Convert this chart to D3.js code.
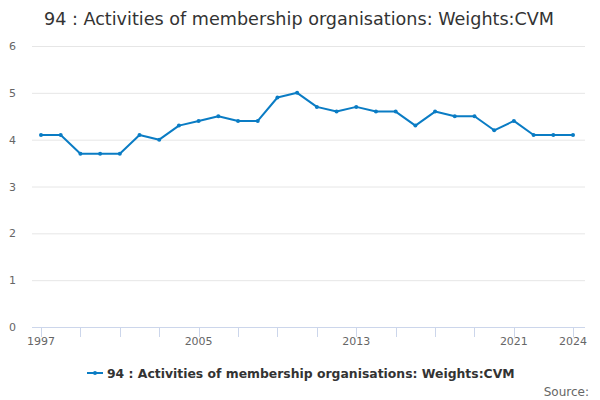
<!DOCTYPE html>
<html><head><meta charset="utf-8">
<script src="https://cdn.jsdelivr.net/npm/d3@7"></script>
<style>body{margin:0;background:#fff}svg{display:block;font-family:"DejaVu Sans",sans-serif}</style>
</head><body><svg id="c" width="600" height="400"></svg>
<script>
const years = [1997,1998,1999,2000,2001,2002,2003,2004,2005,2006,2007,2008,2009,2010,2011,2012,2013,2014,2015,2016,2017,2018,2019,2020,2021,2022,2023,2024];
const values = [4.1,4.1,3.7,3.7,3.7,4.1,4.0,4.3,4.4,4.5,4.4,4.4,4.9,5.0,4.7,4.6,4.7,4.6,4.6,4.3,4.6,4.5,4.5,4.2,4.4,4.1,4.1,4.1];
const yTicks = [0,1,2,3,4,5,6];
const xTickYears = [1997,1999,2001,2003,2005,2007,2009,2011,2013,2015,2017,2019,2021,2024];
const xLabelYears = [1997,2005,2013,2021,2024];
const title = "94 : Activities of membership organisations: Weights:CVM";
const seriesName = "94 : Activities of membership organisations: Weights:CVM";
const color = "#0a7cc4";

const svg = d3.select("#c");
const x = d3.scaleLinear().domain([1997,2024]).range([41,573]);
const y = d3.scaleLinear().domain([0,6]).range([327,46]);

svg.append("text").attr("x",299).attr("y",25).attr("text-anchor","middle")
  .attr("font-size",17.6).attr("fill","#333").text(title);

svg.append("g").selectAll("line").data(yTicks.filter(d=>d>0)).join("line")
  .attr("x1",32).attr("x2",585).attr("y1",d=>y(d)+0.5).attr("y2",d=>y(d)+0.5)
  .attr("stroke","#e6e6e6").attr("stroke-width",1);
svg.append("g").selectAll("text").data(yTicks).join("text")
  .attr("x",16).attr("y",d=>y(d)+4).attr("text-anchor","end")
  .attr("font-size",11).attr("fill","#666").text(d=>d);

svg.append("line").attr("x1",32).attr("x2",585).attr("y1",327.5).attr("y2",327.5)
  .attr("stroke","#ccd6eb").attr("stroke-width",1);
svg.append("g").selectAll("line").data(xTickYears).join("line")
  .attr("x1",d=>Math.round(x(d))+0.5).attr("x2",d=>Math.round(x(d))+0.5)
  .attr("y1",327).attr("y2",337).attr("stroke","#ccd6eb");
svg.append("g").selectAll("text").data(xLabelYears).join("text")
  .attr("x",d=>x(d)).attr("y",345).attr("text-anchor","middle")
  .attr("font-size",11).attr("fill","#666").text(d=>d);

const pts = years.map((yr,i)=>[yr,values[i]]);
svg.append("path").datum(pts)
  .attr("d",d3.line().x(d=>x(d[0])).y(d=>y(d[1])))
  .attr("fill","none").attr("stroke",color).attr("stroke-width",2).attr("stroke-linejoin","round");
svg.append("g").selectAll("circle").data(pts).join("circle")
  .attr("cx",d=>x(d[0])).attr("cy",d=>y(d[1])).attr("r",2).attr("fill",color);

const lg = svg.append("g");
lg.append("line").attr("x1",87).attr("x2",103).attr("y1",373).attr("y2",373).attr("stroke",color).attr("stroke-width",2);
lg.append("circle").attr("cx",95).attr("cy",373).attr("r",2).attr("fill",color);
lg.append("text").attr("x",107).attr("y",378).attr("font-size",12.4).attr("font-weight","bold").attr("fill","#333").text(seriesName);

svg.append("text").attr("x",589).attr("y",396).attr("text-anchor","end").attr("font-size",12).attr("fill","#666").text("Source:");
</script></body></html>
